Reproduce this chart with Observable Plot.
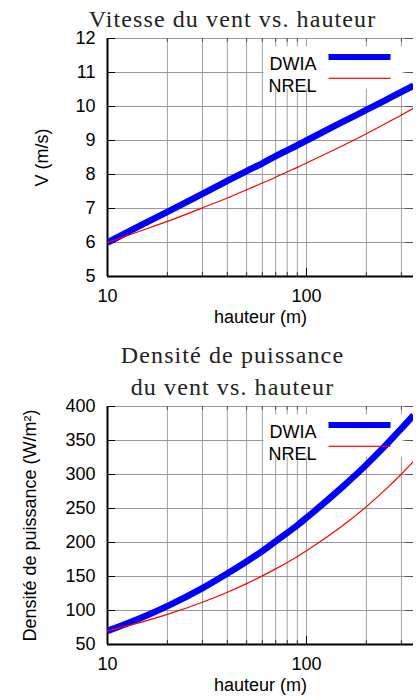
<!DOCTYPE html>
<html>
<head>
<meta charset="utf-8">
<script src="https://cdn.jsdelivr.net/npm/d3@7"></script>
<script src="https://cdn.jsdelivr.net/npm/@observablehq/plot@0.6"></script>
<style>
  html, body { margin: 0; padding: 0; background: white; }
  #chart { width: 416px; height: 700px; position: relative; }
  #chart svg { display: block; }
  g[font-family="Liberation Serif"] text { letter-spacing: 1.1px; }
</style>
</head>
<body>
<div id="chart"></div>
<script>
// ---- data ----
const heights    = [10, 15, 20, 30, 40, 50, 60, 70, 80, 90, 100, 150, 200, 250, 300, 345];
const dwiaSpeed  = [6.00, 6.53, 6.90, 7.43, 7.81, 8.10, 8.33, 8.54, 8.71, 8.86, 9.00, 9.53, 9.90, 10.19, 10.43, 10.61];
const nrelSpeed  = [6.00, 6.36, 6.62, 7.02, 7.31, 7.55, 7.75, 7.92, 8.08, 8.21, 8.34, 8.83, 9.20, 9.50, 9.75, 9.95];
const dwiaPower  = [70.0, 90.2, 106.5, 132.9, 154.4, 172.2, 187.3, 201.8, 214.1, 225.4, 236.3, 280.5, 314.4, 342.9, 367.7, 387.1];
const nrelPower  = [70.0, 83.3, 94.2, 112.1, 126.8, 139.5, 150.9, 161.2, 170.7, 179.5, 187.8, 223.5, 252.7, 278.1, 300.7, 319.3];

const seriesNames = ["DWIA", "NREL"];
const xDomain     = [10, 345];
const xMajorTicks = [10, 100];
const xMinorTicks = [20, 30, 40, 50, 60, 70, 80, 90, 200, 300];
const xGridTicks  = [20, 30, 40, 50, 60, 70, 80, 90, 100, 200, 300];
const speedTicks  = [5, 6, 7, 8, 9, 10, 11, 12];
const powerTicks  = [50, 100, 150, 200, 250, 300, 350, 400];

const xLabel      = "hauteur (m)";
const speedLabel  = "V (m/s)";
const powerLabel  = "Densité de puissance (W/m²)";
const speedTitle  = "Vitesse du vent vs. hauteur";
const powerTitle  = "Densité de puissance\ndu vent vs. hauteur";

const FW = 306, FH = 238; // frame size in px

function panel(cfg) {
  const dwia = heights.map((h, i) => ({h, v: cfg.dwia[i]}));
  const nrel = heights.map((h, i) => ({h, v: cfg.nrel[i]}));
  return Plot.plot({
    width: 416,
    height: cfg.height,
    marginLeft: 107,
    marginRight: 3,
    marginTop: cfg.marginTop,
    marginBottom: cfg.marginBottom,
    style: {fontFamily: "Liberation Sans", fontSize: "18px", background: "white", color: "black", overflow: "visible"},
    x: {type: "log", domain: xDomain},
    y: {domain: [cfg.yTicks[0], cfg.yTicks[cfg.yTicks.length - 1]]},
    marks: [
      Plot.gridX({ticks: xGridTicks, stroke: "#a0a0a0", strokeOpacity: 1, strokeWidth: 1}),
      Plot.gridY({ticks: cfg.yTicks.slice(1), stroke: "#999", strokeOpacity: 1, strokeWidth: 1}),
      // inward ticks
      Plot.tickY(cfg.yTicks, {y: d => d, stroke: "black", insetRight: FW - 8}),
      Plot.tickY(cfg.yTicks, {y: d => d, stroke: "#555", insetLeft: FW - 8}),
      Plot.tickX(xMajorTicks, {x: d => d, stroke: "black", insetTop: FH - 8}),
      Plot.tickX(xMinorTicks, {x: d => d, stroke: "#333", insetTop: FH - 4}),
      Plot.tickX(xMinorTicks, {x: d => d, stroke: "#555", insetBottom: FH - 4}),
      // legend box
      Plot.frame({fill: "white", stroke: "none", insetLeft: 156, insetRight: 11, insetTop: 8, insetBottom: 188}),
      // axis lines
      Plot.ruleX([xDomain[0]], {stroke: "black", strokeWidth: 2}),
      Plot.ruleY([cfg.yTicks[0]], {stroke: "black", strokeWidth: 2}),
      // DWIA legend + curve
      Plot.text([seriesNames[0]], {text: d => d, frameAnchor: "top-right", textAnchor: "end", dx: -97, dy: 19, fontSize: 18}),
      Plot.frame({fill: "#0000ff", stroke: "none", insetLeft: 221, insetRight: 23, insetTop: 15.5, insetBottom: FH - 21.5}),
      Plot.line(dwia, {x: "h", y: "v", stroke: "#0000ff", strokeWidth: 6.5, curve: "monotone-x", clip: true, strokeLinecap: "butt"}),
      // NREL legend + curve
      Plot.text([seriesNames[1]], {text: d => d, frameAnchor: "top-right", textAnchor: "end", dx: -97, dy: 40.5, fontSize: 18}),
      Plot.frame({fill: "#ff0000", stroke: "none", insetLeft: 221, insetRight: 23, insetTop: 39.2, insetBottom: FH - 40.4}),
      Plot.line(nrel, {x: "h", y: "v", stroke: "#ff0000", strokeWidth: 1.2, curve: "monotone-x", clip: true}),
      // tick labels
      Plot.axisX({ticks: xMajorTicks, tickSize: 0, tickPadding: 13, tickFormat: d => String(d), label: null, fontSize: 18}),
      Plot.axisY({ticks: cfg.yTicks, tickSize: 0, tickPadding: 12, tickFormat: d => String(d), label: null, fontSize: 18}),
      // axis labels
      Plot.text([xLabel], {text: d => d, frameAnchor: "bottom", textAnchor: "middle", dy: 46, fontSize: 18}),
      Plot.text([cfg.yLabel], {text: d => d, frameAnchor: "left", textAnchor: "middle", dx: cfg.yLabelDx, rotate: -90, fontSize: 18}),
      // title
      Plot.text([cfg.title], {text: d => d, frameAnchor: "top", textAnchor: "middle", dx: -28, dy: -12, lineAnchor: "bottom", lineHeight: 1.3, fontFamily: "Liberation Serif", fontSize: 24, fill: "#222"})
    ]
  });
}

const speedChart = panel({
  height: 340, marginTop: 38, marginBottom: 64,
  yTicks: speedTicks, dwia: dwiaSpeed, nrel: nrelSpeed,
  yLabel: speedLabel, yLabelDx: -65, title: speedTitle
});
const powerChart = panel({
  height: 360, marginTop: 66, marginBottom: 56,
  yTicks: powerTicks, dwia: dwiaPower, nrel: nrelPower,
  yLabel: powerLabel, yLabelDx: -77, title: powerTitle
});
const el = document.getElementById("chart");
el.appendChild(speedChart);
el.appendChild(powerChart);
</script>
</body>
</html>
